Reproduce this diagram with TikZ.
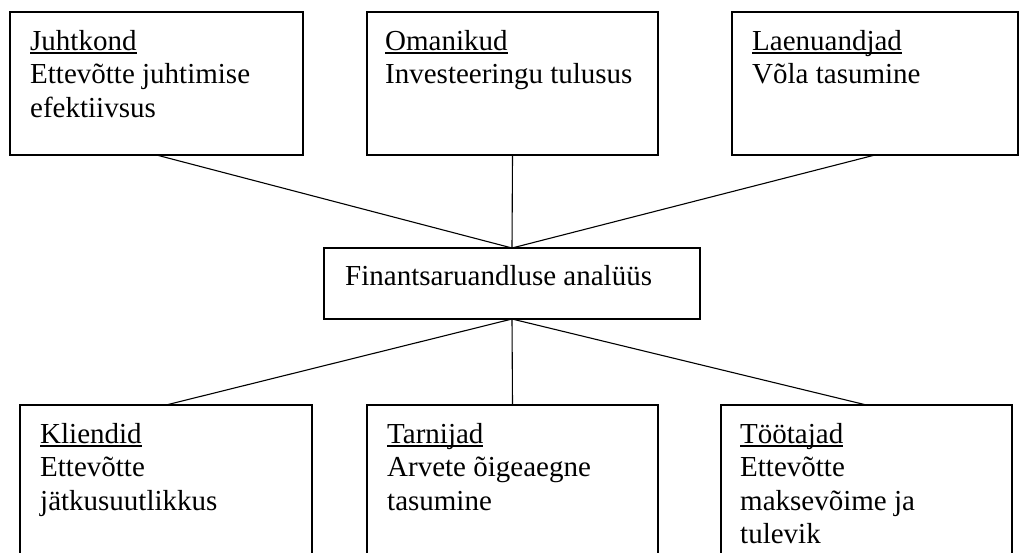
\documentclass[tikz,border=0pt]{standalone}
\usepackage{fontspec}
\setmainfont{Liberation Serif}
\newcommand\myul[1]{\setbox0\hbox{#1}\rlap{\rule[-3.4pt]{\wd0}{1.6pt}}\box0}
\begin{document}
\begin{tikzpicture}[x=1pt,y=-1pt,
  box/.style={draw, line width=1.2pt, inner sep=0pt, outer sep=0pt, anchor=north west},
  txt/.style={anchor=north west, inner sep=0pt, align=left, font=\fontsize{29}{33.5}\selectfont},
  link/.style={line width=1.1pt}]
\useasboundingbox (0,0) rectangle (1019,552);
\clip (0,0) rectangle (1019,552);
% top boxes
\node[box, minimum width=293pt, minimum height=143pt] (juht) at (10,12) {};
\node[txt] (juhtT) at (30,25) {\rule{0pt}{25pt}\myul{Juhtkond}\\Ettevõtte juhtimise\\efektiivsus};
\node[box, minimum width=291pt, minimum height=143pt] (oman) at (367,12) {};
\node[txt] (omanT) at (385,25) {\rule{0pt}{25pt}\myul{Omanikud}\\Investeeringu tulusus};
\node[box, minimum width=286pt, minimum height=143pt] (laen) at (732,12) {};
\node[txt] (laenT) at (752,25) {\rule{0pt}{25pt}\myul{Laenuandjad}\\Võla tasumine};
% middle
\node[box, minimum width=376pt, minimum height=71pt] (mid) at (324,248) {};
\node[txt] (midT) at (345,260) {\rule{0pt}{25pt}Finantsaruandluse analüüs};
% bottom boxes
\node[box, minimum width=292pt, minimum height=200pt] (klie) at (20,405) {};
\node[txt] (klieT) at (40,418) {\rule{0pt}{25pt}\myul{Kliendid}\\Ettevõtte\\jätkusuutlikkus};
\node[box, minimum width=291pt, minimum height=200pt] (tarn) at (367,405) {};
\node[txt] (tarnT) at (387,418) {\rule{0pt}{25pt}\myul{Tarnijad}\\Arvete õigeaegne\\tasumine};
\node[box, minimum width=291pt, minimum height=200pt] (toot) at (721,405) {};
\node[txt] (tootT) at (740,418) {\rule{0pt}{25pt}\myul{Töötajad}\\Ettevõtte\\maksevõime ja\\tulevik};
% connectors
\draw[link] (juht.south) -- (mid.north);
\draw[link] (oman.south) -- (mid.north);
\draw[link] (laen.south) -- (mid.north);
\draw[link] (mid.south) -- (klie.north);
\draw[link] (mid.south) -- (tarn.north);
\draw[link] (mid.south) -- (toot.north);
\end{tikzpicture}
\end{document}
